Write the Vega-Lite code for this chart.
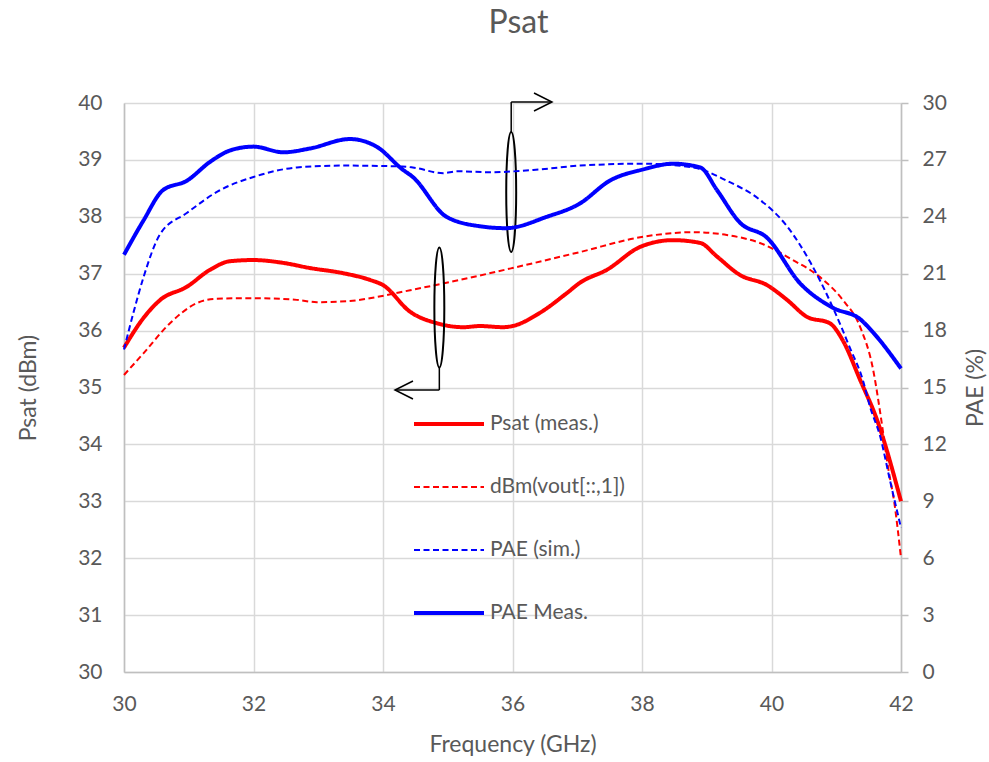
{
  "$schema": "https://vega.github.io/schema/vega-lite/v6.json",
  "width": 777,
  "height": 569,
  "autosize": {"type": "none"},
  "padding": {"left": 124, "top": 103, "right": 88, "bottom": 90},
  "background": "white",
  "title": {"text": "Psat", "font": "Lato", "fontSize": 32, "fontWeight": "normal", "color": "#595959", "frame": "group", "anchor": "middle", "offset": 25, "baseline": "alphabetic", "dx": 6},
  "config": {
    "view": {"stroke": null},
    "font": "Lato",
    "axis": {"labelFont": "Lato", "titleFont": "Lato", "labelColor": "#595959", "titleColor": "#595959", "labelFontSize": 21, "titleFontSize": 23, "titleFontWeight": "normal", "gridColor": "#d9d9d9", "gridWidth": 1.5, "domainColor": "#bfbfbf", "domainWidth": 1.5, "tickColor": "#bfbfbf", "tickWidth": 1.5, "labelFlush": false}
  },
  "datasets": {
    "curves": [
      {"s": "Psat (meas.)", "f": 30.0, "v": 35.70},
      {"s": "Psat (meas.)", "f": 30.3, "v": 36.22},
      {"s": "Psat (meas.)", "f": 30.56, "v": 36.54},
      {"s": "Psat (meas.)", "f": 30.97, "v": 36.77},
      {"s": "Psat (meas.)", "f": 31.33, "v": 37.07},
      {"s": "Psat (meas.)", "f": 31.64, "v": 37.22},
      {"s": "Psat (meas.)", "f": 32.0, "v": 37.24},
      {"s": "Psat (meas.)", "f": 32.46, "v": 37.19},
      {"s": "Psat (meas.)", "f": 32.87, "v": 37.10},
      {"s": "Psat (meas.)", "f": 33.38, "v": 37.01},
      {"s": "Psat (meas.)", "f": 33.8, "v": 36.89},
      {"s": "Psat (meas.)", "f": 34.0, "v": 36.80},
      {"s": "Psat (meas.)", "f": 34.42, "v": 36.33},
      {"s": "Psat (meas.)", "f": 34.83, "v": 36.13},
      {"s": "Psat (meas.)", "f": 35.24, "v": 36.06},
      {"s": "Psat (meas.)", "f": 35.5, "v": 36.08},
      {"s": "Psat (meas.)", "f": 35.85, "v": 36.06},
      {"s": "Psat (meas.)", "f": 36.0, "v": 36.08},
      {"s": "Psat (meas.)", "f": 36.42, "v": 36.31},
      {"s": "Psat (meas.)", "f": 36.84, "v": 36.66},
      {"s": "Psat (meas.)", "f": 37.04, "v": 36.84},
      {"s": "Psat (meas.)", "f": 37.46, "v": 37.07},
      {"s": "Psat (meas.)", "f": 37.97, "v": 37.47},
      {"s": "Psat (meas.)", "f": 38.48, "v": 37.59},
      {"s": "Psat (meas.)", "f": 38.9, "v": 37.54},
      {"s": "Psat (meas.)", "f": 39.16, "v": 37.30},
      {"s": "Psat (meas.)", "f": 39.51, "v": 36.98},
      {"s": "Psat (meas.)", "f": 39.93, "v": 36.80},
      {"s": "Psat (meas.)", "f": 40.24, "v": 36.54},
      {"s": "Psat (meas.)", "f": 40.55, "v": 36.24},
      {"s": "Psat (meas.)", "f": 40.9, "v": 36.13},
      {"s": "Psat (meas.)", "f": 41.1, "v": 35.83},
      {"s": "Psat (meas.)", "f": 41.37, "v": 35.13},
      {"s": "Psat (meas.)", "f": 41.63, "v": 34.43},
      {"s": "Psat (meas.)", "f": 42.0, "v": 33.0},
      {"s": "dBm(vout[::,1])", "f": 30.0, "v": 35.22},
      {"s": "dBm(vout[::,1])", "f": 30.3, "v": 35.60},
      {"s": "dBm(vout[::,1])", "f": 30.71, "v": 36.13},
      {"s": "dBm(vout[::,1])", "f": 31.12, "v": 36.48},
      {"s": "dBm(vout[::,1])", "f": 31.43, "v": 36.56},
      {"s": "dBm(vout[::,1])", "f": 32.0, "v": 36.57},
      {"s": "dBm(vout[::,1])", "f": 32.67, "v": 36.54},
      {"s": "dBm(vout[::,1])", "f": 32.98, "v": 36.50},
      {"s": "dBm(vout[::,1])", "f": 33.49, "v": 36.52},
      {"s": "dBm(vout[::,1])", "f": 33.9, "v": 36.59},
      {"s": "dBm(vout[::,1])", "f": 34.42, "v": 36.71},
      {"s": "dBm(vout[::,1])", "f": 34.98, "v": 36.84},
      {"s": "dBm(vout[::,1])", "f": 36.0, "v": 37.10},
      {"s": "dBm(vout[::,1])", "f": 37.04, "v": 37.38},
      {"s": "dBm(vout[::,1])", "f": 38.02, "v": 37.65},
      {"s": "dBm(vout[::,1])", "f": 38.79, "v": 37.73},
      {"s": "dBm(vout[::,1])", "f": 39.31, "v": 37.68},
      {"s": "dBm(vout[::,1])", "f": 39.82, "v": 37.54},
      {"s": "dBm(vout[::,1])", "f": 40.33, "v": 37.24},
      {"s": "dBm(vout[::,1])", "f": 40.75, "v": 36.94},
      {"s": "dBm(vout[::,1])", "f": 41.1, "v": 36.54},
      {"s": "dBm(vout[::,1])", "f": 41.37, "v": 36.06},
      {"s": "dBm(vout[::,1])", "f": 41.57, "v": 35.31},
      {"s": "dBm(vout[::,1])", "f": 41.68, "v": 34.55},
      {"s": "dBm(vout[::,1])", "f": 41.8, "v": 33.6},
      {"s": "dBm(vout[::,1])", "f": 41.9, "v": 32.95},
      {"s": "dBm(vout[::,1])", "f": 42.0, "v": 32.0},
      {"s": "PAE (sim.)", "f": 30.0, "v": 17.0},
      {"s": "PAE (sim.)", "f": 30.15, "v": 19.0},
      {"s": "PAE (sim.)", "f": 30.3, "v": 20.8},
      {"s": "PAE (sim.)", "f": 30.56, "v": 23.1},
      {"s": "PAE (sim.)", "f": 30.97, "v": 24.2},
      {"s": "PAE (sim.)", "f": 31.48, "v": 25.4},
      {"s": "PAE (sim.)", "f": 32.0, "v": 26.1},
      {"s": "PAE (sim.)", "f": 32.67, "v": 26.6},
      {"s": "PAE (sim.)", "f": 33.38, "v": 26.7},
      {"s": "PAE (sim.)", "f": 34.3, "v": 26.65},
      {"s": "PAE (sim.)", "f": 34.46, "v": 26.6},
      {"s": "PAE (sim.)", "f": 34.93, "v": 26.3},
      {"s": "PAE (sim.)", "f": 35.14, "v": 26.4},
      {"s": "PAE (sim.)", "f": 35.65, "v": 26.35},
      {"s": "PAE (sim.)", "f": 36.42, "v": 26.5},
      {"s": "PAE (sim.)", "f": 37.04, "v": 26.7},
      {"s": "PAE (sim.)", "f": 38.02, "v": 26.8},
      {"s": "PAE (sim.)", "f": 38.79, "v": 26.6},
      {"s": "PAE (sim.)", "f": 39.31, "v": 25.9},
      {"s": "PAE (sim.)", "f": 39.82, "v": 24.9},
      {"s": "PAE (sim.)", "f": 40.24, "v": 23.5},
      {"s": "PAE (sim.)", "f": 40.6, "v": 21.6},
      {"s": "PAE (sim.)", "f": 40.95, "v": 19.2},
      {"s": "PAE (sim.)", "f": 41.21, "v": 17.1},
      {"s": "PAE (sim.)", "f": 41.41, "v": 15.4},
      {"s": "PAE (sim.)", "f": 41.52, "v": 14.0},
      {"s": "PAE (sim.)", "f": 41.68, "v": 12.4},
      {"s": "PAE (sim.)", "f": 41.83, "v": 10.1},
      {"s": "PAE (sim.)", "f": 42.0, "v": 7.6},
      {"s": "PAE Meas.", "f": 30.0, "v": 22.0},
      {"s": "PAE Meas.", "f": 30.3, "v": 23.8},
      {"s": "PAE Meas.", "f": 30.6, "v": 25.4},
      {"s": "PAE Meas.", "f": 30.97, "v": 25.9},
      {"s": "PAE Meas.", "f": 31.33, "v": 26.9},
      {"s": "PAE Meas.", "f": 31.64, "v": 27.5},
      {"s": "PAE Meas.", "f": 32.0, "v": 27.7},
      {"s": "PAE Meas.", "f": 32.46, "v": 27.4},
      {"s": "PAE Meas.", "f": 32.87, "v": 27.6},
      {"s": "PAE Meas.", "f": 33.49, "v": 28.1},
      {"s": "PAE Meas.", "f": 33.9, "v": 27.7},
      {"s": "PAE Meas.", "f": 34.3, "v": 26.5},
      {"s": "PAE Meas.", "f": 34.46, "v": 26.1},
      {"s": "PAE Meas.", "f": 34.98, "v": 24.0},
      {"s": "PAE Meas.", "f": 35.5, "v": 23.5},
      {"s": "PAE Meas.", "f": 35.9, "v": 23.4},
      {"s": "PAE Meas.", "f": 36.53, "v": 24.0},
      {"s": "PAE Meas.", "f": 37.04, "v": 24.7},
      {"s": "PAE Meas.", "f": 37.5, "v": 25.9},
      {"s": "PAE Meas.", "f": 38.02, "v": 26.5},
      {"s": "PAE Meas.", "f": 38.48, "v": 26.8},
      {"s": "PAE Meas.", "f": 38.9, "v": 26.6},
      {"s": "PAE Meas.", "f": 39.16, "v": 25.4},
      {"s": "PAE Meas.", "f": 39.51, "v": 23.7},
      {"s": "PAE Meas.", "f": 39.93, "v": 22.9},
      {"s": "PAE Meas.", "f": 40.44, "v": 20.5},
      {"s": "PAE Meas.", "f": 40.95, "v": 19.2},
      {"s": "PAE Meas.", "f": 41.37, "v": 18.6},
      {"s": "PAE Meas.", "f": 41.57, "v": 17.9},
      {"s": "PAE Meas.", "f": 42.0, "v": 16.0}
    ],
    "rules": [
      {"f": 35.98, "v": 39.49, "f2": 35.98, "v2": 40.018},
      {"f": 35.98, "v": 40.018, "f2": 36.6, "v2": 40.018},
      {"f": 34.87, "v": 35.36, "f2": 34.87, "v2": 34.956},
      {"f": 34.87, "v": 34.956, "f2": 34.19, "v2": 34.956}
    ],
    "ellipses": [
      {"f": 35.98, "v": 38.436},
      {"f": 34.87, "v": 36.406}
    ],
    "heads": [
      {"dir": "right", "f": 36.61, "v": 40.018},
      {"dir": "left", "f": 34.185, "v": 34.956}
    ]
  },
  "encoding": {
    "x": {"field": "f", "type": "quantitative", "scale": {"domain": [30, 42], "nice": false, "zero": false},
      "axis": {"title": "Frequency (GHz)", "values": [30, 32, 34, 36, 38, 40, 42], "format": "d", "ticks": false, "tickSize": 0, "labelPadding": 21, "labelFlush": false, "grid": true, "titleY": 72, "titleBaseline": "middle"}}
  },
  "layer": [
    {
      "layer": [
        {
          "data": {"name": "curves"},
          "transform": [{"filter": {"field": "s", "oneOf": ["Psat (meas.)", "dBm(vout[::,1])"]}}],
          "mark": {"type": "line", "interpolate": "monotone"},
          "encoding": {
            "y": {"field": "v", "type": "quantitative", "title": "Psat (dBm)", "scale": {"domain": [30, 40], "nice": false, "zero": false},
              "axis": {"orient": "left", "values": [30, 31, 32, 33, 34, 35, 36, 37, 38, 39, 40], "format": "d", "ticks": false, "tickSize": 0, "labelPadding": 22, "labelFlush": false, "grid": true, "titleX": -96, "titleY": 284.5, "titleBaseline": "middle", "titleAngle": 270}},
            "color": {"field": "s", "type": "ordinal", "sort": null, "scale": {"type": "ordinal", "domain": ["Psat (meas.)", "dBm(vout[::,1])", "PAE (sim.)", "PAE Meas."], "range": ["#ff0000", "#ff0000", "#0000ff", "#0000ff"]},
              "legend": {"orient": "none", "legendX": 288, "legendY": 311, "title": null, "symbolType": "stroke", "symbolSize": 4900, "clipHeight": 20, "rowPadding": 42, "labelOffset": 4, "labelFont": "Lato", "labelFontSize": 21, "labelColor": "#595959", "labelLimit": 300, "padding": 0}},
            "strokeDash": {"field": "s", "type": "ordinal", "sort": null, "scale": {"type": "ordinal", "domain": ["Psat (meas.)", "dBm(vout[::,1])", "PAE (sim.)", "PAE Meas."], "range": [[1, 0], [6, 3.5], [6, 3.5], [1, 0]]},
              "legend": {"orient": "none", "legendX": 288, "legendY": 311, "title": null, "symbolType": "stroke", "symbolSize": 4900, "clipHeight": 20, "rowPadding": 42, "labelOffset": 4, "labelFont": "Lato", "labelFontSize": 21, "labelColor": "#595959", "labelLimit": 300, "padding": 0}},
            "strokeWidth": {"field": "s", "type": "ordinal", "sort": null, "scale": {"type": "ordinal", "domain": ["Psat (meas.)", "dBm(vout[::,1])", "PAE (sim.)", "PAE Meas."], "range": [4, 2, 2, 4]},
              "legend": {"orient": "none", "legendX": 288, "legendY": 311, "title": null, "symbolType": "stroke", "symbolSize": 4900, "clipHeight": 20, "rowPadding": 42, "labelOffset": 4, "labelFont": "Lato", "labelFontSize": 21, "labelColor": "#595959", "labelLimit": 300, "padding": 0}}
          }
        },
        {
          "data": {"name": "rules"},
          "mark": {"type": "rule", "color": "black", "strokeWidth": 1.5},
          "encoding": {
            "x2": {"field": "f2"},
            "y": {"field": "v", "type": "quantitative", "title": "Psat (dBm)", "scale": {"domain": [30, 40], "nice": false, "zero": false}},
            "y2": {"field": "v2"}
          }
        },
        {
          "data": {"name": "ellipses"},
          "mark": {"type": "point", "shape": "M0,-1C0.0461,-1 0.083,-0.5523 0.083,0C0.083,0.5523 0.0461,1 0,1C-0.0461,1 -0.083,0.5523 -0.083,0C-0.083,-0.5523 -0.0461,-1 0,-1Z", "size": 14400, "filled": false, "stroke": "black", "strokeWidth": 2, "opacity": 1},
          "encoding": {
            "y": {"field": "v", "type": "quantitative", "title": "Psat (dBm)", "scale": {"domain": [30, 40], "nice": false, "zero": false}}
          }
        },
        {
          "data": {"name": "heads"},
          "transform": [{"filter": "datum.dir == 'right'"}],
          "mark": {"type": "point", "shape": "M-1,-0.5L0,0L-1,0.5", "size": 1296, "filled": false, "stroke": "black", "strokeWidth": 1.5, "opacity": 1},
          "encoding": {
            "y": {"field": "v", "type": "quantitative", "title": "Psat (dBm)", "scale": {"domain": [30, 40], "nice": false, "zero": false}}
          }
        },
        {
          "data": {"name": "heads"},
          "transform": [{"filter": "datum.dir == 'left'"}],
          "mark": {"type": "point", "shape": "M1,-0.5L0,0L1,0.5", "size": 1296, "filled": false, "stroke": "black", "strokeWidth": 1.5, "opacity": 1},
          "encoding": {
            "y": {"field": "v", "type": "quantitative", "title": "Psat (dBm)", "scale": {"domain": [30, 40], "nice": false, "zero": false}}
          }
        }
      ]
    },
    {
      "data": {"name": "curves"},
      "transform": [{"filter": {"field": "s", "oneOf": ["PAE (sim.)", "PAE Meas."]}}],
      "mark": {"type": "line", "interpolate": "monotone"},
      "encoding": {
        "y": {"field": "v", "type": "quantitative", "title": "PAE (%)", "scale": {"domain": [0, 30], "nice": false, "zero": false},
          "axis": {"orient": "right", "values": [0, 3, 6, 9, 12, 15, 18, 21, 24, 27, 30], "format": "d", "ticks": true, "tickSize": 7, "labelPadding": 14, "labelFlush": false, "grid": false, "titleX": 74, "titleY": 284.5, "titleBaseline": "middle", "titleAngle": 270}},
        "color": {"field": "s", "type": "ordinal", "sort": null, "scale": {"type": "ordinal", "domain": ["Psat (meas.)", "dBm(vout[::,1])", "PAE (sim.)", "PAE Meas."], "range": ["#ff0000", "#ff0000", "#0000ff", "#0000ff"]},
          "legend": {"orient": "none", "legendX": 288, "legendY": 311, "title": null, "symbolType": "stroke", "symbolSize": 4900, "clipHeight": 20, "rowPadding": 42, "labelOffset": 4, "labelFont": "Lato", "labelFontSize": 21, "labelColor": "#595959", "labelLimit": 300, "padding": 0}},
        "strokeDash": {"field": "s", "type": "ordinal", "sort": null, "scale": {"type": "ordinal", "domain": ["Psat (meas.)", "dBm(vout[::,1])", "PAE (sim.)", "PAE Meas."], "range": [[1, 0], [6, 3.5], [6, 3.5], [1, 0]]},
          "legend": {"orient": "none", "legendX": 288, "legendY": 311, "title": null, "symbolType": "stroke", "symbolSize": 4900, "clipHeight": 20, "rowPadding": 42, "labelOffset": 4, "labelFont": "Lato", "labelFontSize": 21, "labelColor": "#595959", "labelLimit": 300, "padding": 0}},
        "strokeWidth": {"field": "s", "type": "ordinal", "sort": null, "scale": {"type": "ordinal", "domain": ["Psat (meas.)", "dBm(vout[::,1])", "PAE (sim.)", "PAE Meas."], "range": [4, 2, 2, 4]},
          "legend": {"orient": "none", "legendX": 288, "legendY": 311, "title": null, "symbolType": "stroke", "symbolSize": 4900, "clipHeight": 20, "rowPadding": 42, "labelOffset": 4, "labelFont": "Lato", "labelFontSize": 21, "labelColor": "#595959", "labelLimit": 300, "padding": 0}}
      }
    }
  ],
  "resolve": {"scale": {"y": "independent"}}
}
